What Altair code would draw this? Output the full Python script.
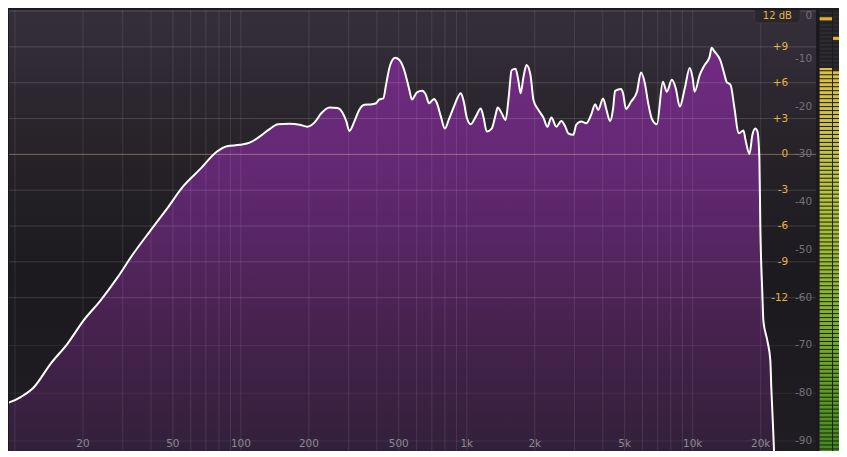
import altair as alt
import pandas as pd

# ---------------- data ----------------
freq_hz = [8.7, 10.6, 12.1, 14.4, 17.1, 20.1, 23.9, 28.4, 33.4, 39.7, 47.2, 55.5, 66.0, 78.4, 86.8,
           99, 110, 121, 134, 146, 164, 182, 197, 212, 227, 247, 268, 281, 293, 302, 318, 334, 352,
           381, 397, 410, 427, 440, 458, 482, 502, 528, 555, 572, 602, 634, 660, 680, 716, 738, 768,
           800, 833, 877, 941, 970, 1000, 1041, 1096, 1153, 1188, 1225, 1289, 1342, 1370, 1427, 1485,
           1531, 1579, 1644, 1695, 1730, 1783, 1838, 1914, 1973, 2076, 2184, 2274, 2368, 2492, 2621,
           2730, 2814, 2961, 3052, 3211, 3378, 3553, 3702, 3816, 4014, 4138, 4309, 4443, 4534, 4817,
           4917, 5068, 5332, 5666, 5901, 6144, 6338, 6600, 6941, 7378, 7684, 8083, 8418, 8766, 9222,
           9700, 10000, 10200, 10740, 11300, 11880, 12130, 12500, 13280, 13840, 14120, 14710, 15310,
           15950, 16780, 17120, 17830, 18380, 18950, 19340, 19730, 19930, 20340, 20550, 21400, 22060,
           22280, 22740, 22970, 23200]
level_db = [-82.5, -80.8, -78.8, -73.8, -69.6, -64.8, -60.6, -55.8, -50.8, -46.0, -41.3, -36.7, -33.1,
            -29.4, -28.3, -28.0, -27.5, -26.3, -24.7, -23.7, -23.6, -23.8, -24.2, -23.3, -21.4, -20.2,
            -20.3, -21.2, -23.1, -25.1, -23.1, -20.7, -19.6, -19.5, -19.3, -18.5, -18.3, -15.2, -11.3,
            -9.8, -10.2, -12.3, -16.2, -18.5, -17.0, -16.7, -17.6, -19.3, -18.4, -19.3, -22.1, -24.6,
            -22.7, -20.0, -17.2, -19.0, -22.3, -23.7, -22.1, -20.4, -22.4, -25.2, -24.6, -21.7, -20.2,
            -21.4, -22.8, -18.3, -12.4, -12.1, -14.8, -17.2, -13.75, -11.3, -13.4, -18.6, -20.7, -22.3,
            -24.2, -22.3, -24.2, -23.0, -24.2, -25.6, -25.9, -23.8, -23.1, -23.5, -21.7, -19.5, -20.7,
            -18.3, -20.4, -23.0, -20.4, -16.7, -16.3, -17.2, -20.5, -19.0, -16.9, -12.85, -15.15, -19.0,
            -22.6, -23.7, -14.8, -16.9, -14.4, -16.2, -20.0, -16.2, -11.9, -14.1, -16.9, -13.4, -11.3,
            -9.6, -7.7, -8.5, -10.4, -13.4, -14.8, -15.5, -20.35, -25.6, -25.0, -26.9, -29.9, -25.9,
            -24.6, -25.2, -30.8, -45.4, -59.2, -64.8, -69.0, -73.1, -78.75, -88.3, -93.3, -96.0]

grid_freqs = [10, 20, 30, 40, 50, 60, 70, 80, 90,
              100, 200, 300, 400, 500, 600, 700, 800, 900,
              1000, 2000, 3000, 4000, 5000, 6000, 7000, 8000, 9000,
              10000, 20000]
freq_ticks = [20, 50, 100, 200, 500, 1000, 2000, 5000, 10000, 20000]
freq_tick_labels = ["20", "50", "100", "200", "500", "1k", "2k", "5k", "10k", "20k"]

eq_grid = [12, 9, 6, 3, -3, -6, -9, -12]
eq_ticks = [9, 6, 3, 0, -3, -6, -9, -12]
eq_tick_labels = ["+9", "+6", "+3", "0", "-3", "-6", "-9", "-12"]

spec_grid = [-70, -80, -90]
spec_ticks = [-10, -20, -30, -40, -50, -60, -70, -80, -90]
spec_tick_labels = ["-10", "-20", "-30", "-40", "-50", "-60", "-70", "-80", "-90"]
spec_top_label = ["0"]

range_button = ["12 dB"]

meter_channels = ["L", "R"]
meter_level_db = [-11.9, -12.5]
meter_peak_db = [-1.3, -5.4]

# ---------------- scales ----------------
W, H = 811, 449
XS = alt.Scale(type="log", domain=[9.41, 35180], nice=False)
YS = alt.Scale(domain=[-93.333, 0.2083], nice=False, zero=False)
YE = alt.Scale(domain=[-25.333, 12.083], nice=False, zero=False)
FONT = "DejaVu Sans"

spec_df = pd.DataFrame({"freq": freq_hz, "db": level_db})
one = pd.DataFrame({"a": [0]})

bg = alt.Chart(one).mark_rect(
    fill=alt.Gradient(gradient="linear", x1=0, x2=0, y1=0, y2=1,
                      stops=[alt.GradientStop(color="#352f3a", offset=0),
                             alt.GradientStop(color="#272329", offset=0.3),
                             alt.GradientStop(color="#1c1a1e", offset=0.6),
                             alt.GradientStop(color="#1f1d21", offset=1)])
).encode(x=alt.value(0), x2=alt.value("width"), y=alt.value(0), y2=alt.value("height"))

area = alt.Chart(spec_df).mark_area(
    interpolate="monotone", clip=True, opacity=1,
    fill=alt.Gradient(gradient="linear", x1=0, x2=0, y1=0, y2=1,
                      stops=[alt.GradientStop(color="#722b82", offset=0),
                             alt.GradientStop(color="#622873", offset=0.3),
                             alt.GradientStop(color="#48224f", offset=0.65),
                             alt.GradientStop(color="#2e2036", offset=1)])
).encode(
    x=alt.X("freq:Q", scale=XS, axis=None),
    y=alt.Y("db:Q", scale=YS, axis=None),
    y2=alt.datum(-93.333),
)

vgrid = alt.Chart(pd.DataFrame({"f": grid_freqs})).mark_rule(
    color="#ffffff", opacity=0.1, strokeWidth=1
).encode(x=alt.X("f:Q", scale=XS, axis=None))

hgrid_eq = alt.Chart(pd.DataFrame({"g": eq_grid})).mark_rule(
    color="#ffffff", opacity=0.15, strokeWidth=1
).encode(y=alt.Y("g:Q", scale=YE, axis=None))

hgrid_spec = alt.Chart(pd.DataFrame({"d": spec_grid})).mark_rule(
    color="#ffffff", opacity=0.07, strokeWidth=1
).encode(y=alt.Y("d:Q", scale=YS, axis=None))

zero_line = alt.Chart(one).mark_rule(color="#dcc49a", opacity=0.45, strokeWidth=1).encode(
    y=alt.Y(datum=0, scale=YE, axis=None)
)

line = alt.Chart(spec_df).mark_line(
    interpolate="monotone", clip=True, color="#ffffff", strokeWidth=2
).encode(
    x=alt.X("freq:Q", scale=XS, axis=None),
    y=alt.Y("db:Q", scale=YS, axis=None),
)

freq_text = alt.Chart(pd.DataFrame({"f": freq_ticks, "t": freq_tick_labels})).mark_text(
    color="#8e8993", font=FONT, fontSize=10.5, baseline="middle", align="center"
).encode(x=alt.X("f:Q", scale=XS, axis=None), y=alt.value(436), text="t:N")

eq_text = alt.Chart(pd.DataFrame({"g": eq_ticks, "t": eq_tick_labels})).mark_text(
    color="#e4b444", font=FONT, fontSize=10.5, baseline="middle", align="right", clip=True
).encode(x=alt.value(783), y=alt.Y("g:Q", scale=YE, axis=None), text="t:N")

spec_text = alt.Chart(pd.DataFrame({"d": spec_ticks, "t": spec_tick_labels})).mark_text(
    color="#75717a", font=FONT, fontSize=10.5, baseline="middle", align="right", clip=True
).encode(x=alt.value(807), y=alt.Y("d:Q", scale=YS, axis=None), text="t:N")

spec_top = alt.Chart(pd.DataFrame({"t": spec_top_label})).mark_text(
    color="#75717a", font=FONT, fontSize=10.5, baseline="top", align="right"
).encode(x=alt.value(807), y=alt.value(1), text="t:N")

btn_df = pd.DataFrame({"t": range_button})
btn_box = alt.Chart(btn_df).mark_rect(
    fill="#2a272c", stroke="#3b373e", strokeWidth=1,
    cornerRadiusBottomLeft=4, cornerRadiusBottomRight=4, clip=True
).encode(x=alt.value(749), x2=alt.value(795), y=alt.value(-4), y2=alt.value(13))
btn_text = alt.Chart(btn_df).mark_text(
    color="#e4b444", font=FONT, fontSize=10, baseline="top", align="center"
).encode(x=alt.value(772), y=alt.value(1), text="t:N")

spectrum = alt.layer(
    bg, area, vgrid, hgrid_eq, hgrid_spec, zero_line, line,
    freq_text, eq_text, spec_text, spec_top, btn_box, btn_text
).resolve_scale(y="independent").properties(width=W, height=H)

# ---------------- level meter ----------------
meter_df = pd.DataFrame({"ch": meter_channels, "level": meter_level_db, "peak": meter_peak_db})
MX = alt.Scale(domain=meter_channels, paddingInner=0.07, paddingOuter=0.04)

m_bg = alt.Chart(one).mark_rect(fill="#1d1b1f").encode(
    x=alt.value(0), x2=alt.value("width"), y=alt.value(0), y2=alt.value("height"))
m_unlit = alt.Chart(meter_df).mark_bar(fill="#2c2a2f").encode(
    x=alt.X("ch:N", scale=MX, axis=None), y=alt.value(0), y2=alt.value("height"))
m_lit = alt.Chart(meter_df).mark_bar(
    clip=True,
    fill=alt.Gradient(gradient="linear", x1=0, x2=0, y1=0, y2=1,
                      stops=[alt.GradientStop(color="#dcc03c", offset=0),
                             alt.GradientStop(color="#bcc63a", offset=0.3),
                             alt.GradientStop(color="#86b62e", offset=0.6),
                             alt.GradientStop(color="#3f8a1c", offset=1)])
).encode(
    x=alt.X("ch:N", scale=MX, axis=None),
    y=alt.Y("level:Q", scale=YS, axis=None),
    y2=alt.datum(-93.333),
)
m_sep = alt.Chart(alt.sequence(start=-93.333, stop=0.3, step=0.83333, as_="s")).mark_rule(
    color="#1d1b1f", strokeWidth=1
).encode(y=alt.Y("s:Q", scale=YS, axis=None))
m_peak = alt.Chart(meter_df).transform_calculate(p2="datum.peak - 0.65").mark_bar(
    fill="#e6b22a"
).encode(
    x=alt.X("ch:N", scale=MX, axis=None),
    y=alt.Y("peak:Q", scale=YS, axis=None),
    y2="p2:Q",
)

meter = alt.layer(m_bg, m_unlit, m_lit, m_sep, m_peak).properties(width=27, height=H)

chart = alt.hconcat(spectrum, meter, spacing=1).properties(
    padding={"left": 0, "top": 0, "right": -8, "bottom": -8}, background="#1b191d"
).configure_view(stroke=None)

chart.save("out.html", embed_options={"renderer": "svg", "actions": False})
